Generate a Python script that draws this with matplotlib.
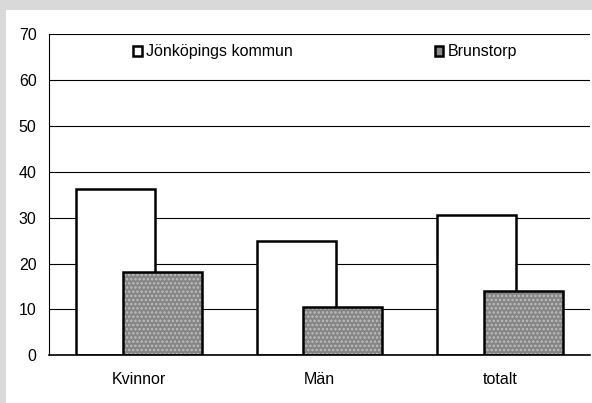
import numpy as np
import matplotlib.pyplot as plt
from matplotlib.patches import Rectangle, Patch

# data
categories = ['Kvinnor', 'Män', 'totalt']
jonkoping = [36.3, 24.8, 30.5]
brunstorp = [18.1, 10.5, 13.9]
series_names = ['Jönköpings kommun', 'Brunstorp']

plt.rcParams['font.family'] = ['Liberation Sans', 'DejaVu Sans']
plt.rcParams['hatch.linewidth'] = 1.2

fig = plt.figure(figsize=(5.92, 4.03), dpi=100)
fig.patch.set_facecolor('#d9d9d9')
# white panel
fig.patches.append(Rectangle((6/592, 0), 1 - 6/592, 1 - 10/403,
                             transform=fig.transFigure, facecolor='white',
                             edgecolor='none', zorder=-1))

ax = fig.add_axes([49/592, 1 - 355.3/403, 541/592, 321.3/403])
ax.set_zorder(2)
ax.set_facecolor('white')

x = np.arange(len(categories))
w = 0.438
off = 0.13

# white bars first, gray ones drawn on top
ax.bar(x - off, jonkoping, w, facecolor='white', edgecolor='black',
       linewidth=1.8, zorder=3)
ax.bar(x + off, brunstorp, w, facecolor='#858585', edgecolor='#bdbdbd',
       hatch='....', linewidth=0, zorder=4)
ax.bar(x + off, brunstorp, w, fill=False, edgecolor='black',
       linewidth=1.8, zorder=5)

ax.set_xlim(-0.5, 2.5)
ax.set_ylim(0, 70)
ax.set_yticks(range(0, 71, 10))
ax.set_xticks(x)
ax.set_xticklabels(categories)
ax.tick_params(axis='both', length=0, labelsize=11.5)
ax.tick_params(axis='y', pad=9)
ax.tick_params(axis='x', pad=12)

ax.yaxis.grid(True, color='black', linewidth=0.8)
ax.set_axisbelow(True)
for s in ['top', 'right']:
    ax.spines[s].set_visible(False)
ax.spines['left'].set_linewidth(0.8)
ax.spines['bottom'].set_linewidth(1.2)
ax.spines['bottom'].set_zorder(6)

handles = [Patch(facecolor='white', edgecolor='black', linewidth=1.8),
           Patch(facecolor='#8a8a8a', edgecolor='black', linewidth=1.8)]
ax.legend(handles, series_names, ncol=2, frameon=False, fontsize=11.5,
          loc='center left', bbox_to_anchor=(0.155, 0.944),
          borderpad=0, borderaxespad=0, handlelength=0.55, handleheight=0.55,
          handletextpad=0.25, columnspacing=8.9)

fig.savefig('out.png', dpi=100, facecolor=fig.get_facecolor())
